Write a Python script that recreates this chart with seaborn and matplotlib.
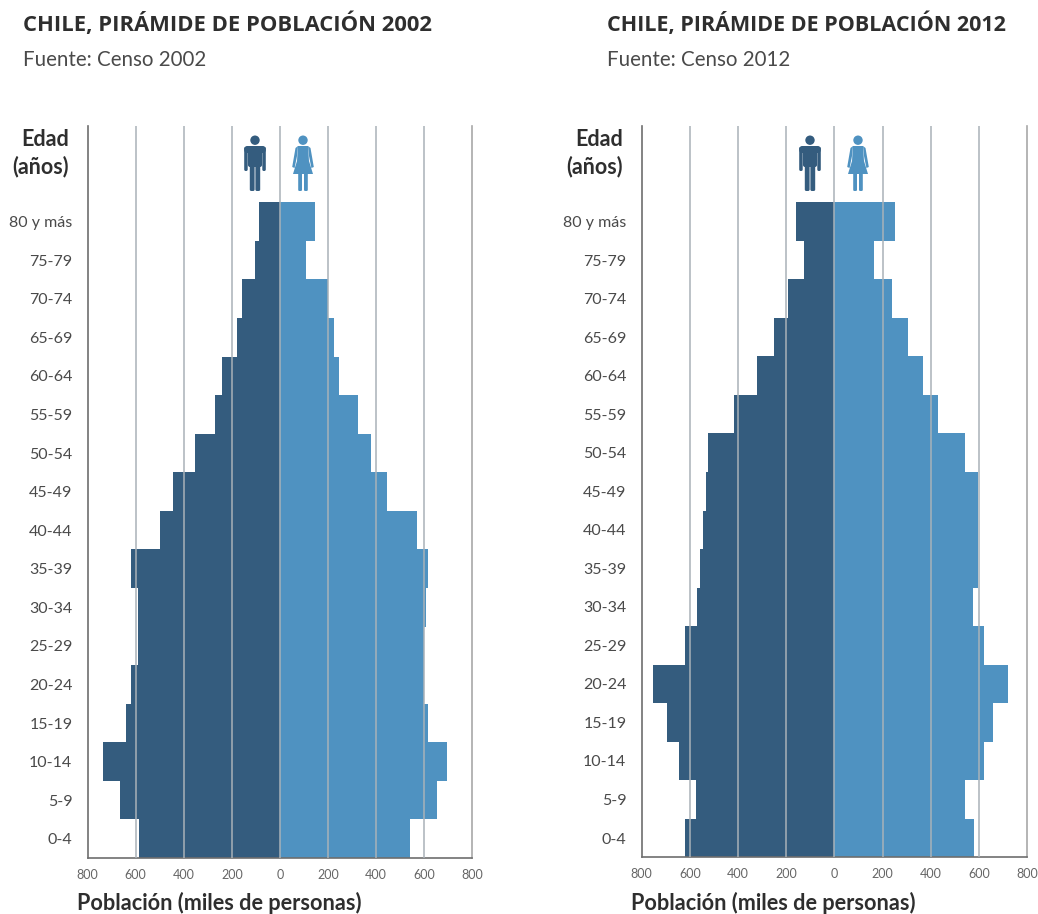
import numpy as np
import pandas as pd
import matplotlib
matplotlib.use('Agg')
import matplotlib.pyplot as plt
import seaborn as sns
from matplotlib.patches import Circle, FancyBboxPatch, Polygon

edades = ['80 y más', '75-79', '70-74', '65-69', '60-64', '55-59', '50-54', '45-49', '40-44',
          '35-39', '30-34', '25-29', '20-24', '15-19', '10-14', '5-9', '0-4']

hombres_2002 = [87, 105, 157, 179, 241, 271, 352, 445, 500, 618, 589, 589, 618, 641, 735, 666, 586]
mujeres_2002 = [145, 107, 199, 224, 245, 325, 380, 447, 571, 615, 608, 600, 600, 615, 694, 656, 540]
hombres_2012 = [159, 127, 194, 252, 320, 418, 523, 534, 547, 559, 572, 621, 752, 696, 646, 573, 621]
mujeres_2012 = [252, 166, 238, 307, 368, 429, 541, 598, 598, 598, 577, 620, 720, 659, 620, 541, 579]

ticks = [-800, -600, -400, -200, 0, 200, 400, 600, 800]
tick_labels = ['800', '600', '400', '200', '0', '200', '400', '600', '800']

AZUL_H = '#345c7e'
AZUL_M = '#4f92c1'
W, H = 1038, 914

sns.set_theme(style='white')
plt.rcParams['font.family'] = ['Lato', 'DejaVu Sans']

fig = plt.figure(figsize=(W / 100, H / 100), dpi=100, facecolor='white')


def caja(ax, x, y, w, h, r, color):
    ax.add_patch(FancyBboxPatch((x, y), w, h, boxstyle=f'round,pad=0,rounding_size={r}', color=color, lw=0))


def icono(ax, tipo, color):
    # little person drawn in its own box, units are about one pixel
    ax.set_xlim(-12, 12)
    ax.set_ylim(0, 56)
    ax.axis('off')
    ax.add_patch(Circle((0, 50.8), 4.7, color=color, lw=0))
    if tipo == 'h':
        caja(ax, -7, 24, 14, 21, 2, color)
        caja(ax, -10.8, 20, 3.5, 24, 1.5, color)
        caja(ax, 7.3, 20, 3.5, 24, 1.5, color)
        caja(ax, -10.8, 38, 21.6, 7, 3, color)
        caja(ax, -5.2, 0, 4.8, 27, 1.5, color)
        caja(ax, 0.4, 0, 4.8, 27, 1.5, color)
    else:
        ax.add_patch(Polygon([(-5, 45), (5, 45), (6, 30), (10, 17), (-10, 17), (-6, 30)], color=color, lw=0))
        ax.add_patch(Polygon([(-5, 45), (-7.5, 43), (-10.8, 24), (-8.4, 23), (-6, 35)], color=color, lw=0))
        ax.add_patch(Polygon([(5, 45), (7.5, 43), (10.8, 24), (8.4, 23), (6, 35)], color=color, lw=0))
        caja(ax, -4.8, 0, 3.8, 20, 1.2, color)
        caja(ax, 1, 0, 3.8, 20, 1.2, color)


def piramide(x0, x1, y0, y1, hombres, mujeres, titulo, fuente, x_tit, x_edad, x_pob, x_h, x_m, size_tit):
    ax = fig.add_axes([x0 / W, 1 - y1 / H, (x1 - x0) / W, (y1 - y0) / H])
    df = pd.DataFrame({
        'edad': edades * 2,
        'valor': list(-np.array(hombres)) + list(mujeres),
        'sexo': ['h'] * len(edades) + ['m'] * len(edades),
    })
    sns.barplot(data=df, y='edad', x='valor', hue='sexo', order=edades, dodge=False, width=1,
                palette={'h': AZUL_H, 'm': AZUL_M}, legend=False, saturation=1, linewidth=0, ax=ax)
    ax.set_xlim(-800, 800)
    ax.set_ylim(16.5, -2.48)
    ax.set_xlabel('')
    ax.set_ylabel('')
    ax.set_xticks(ticks)
    ax.set_xticklabels(tick_labels, fontsize=9, color='#666666')
    ax.tick_params(axis='x', length=0, pad=8)
    ax.tick_params(axis='y', length=0, pad=11, labelsize=11.5, labelcolor='#4a4a4a')
    for t in ticks[1:-1]:
        ax.axvline(t, color='#a9b2b8', lw=1.1, zorder=5)
    sns.despine(ax=ax, top=True, right=False)
    ax.spines['left'].set_color('#6e6e6e')
    ax.spines['bottom'].set_color('#6e6e6e')
    ax.spines['right'].set_color('#a8a8a8')
    ax.spines['left'].set_linewidth(1.2)
    ax.spines['bottom'].set_linewidth(1.2)
    ax.spines['right'].set_linewidth(1.2)

    fig.text(x_tit / W, 1 - 24 / H, titulo, fontsize=size_tit, fontfamily='Open Sans', fontweight='bold',
             color='#2e2e2e', va='center')
    fig.text(x_tit / W, 1 - 60 / H, fuente, fontsize=14.8, color='#4a4a4a', va='center')
    fig.text(x_edad / W, 1 - 139 / H, 'Edad', fontsize=15.5, fontweight='bold', color='#2e2e2e', ha='right', va='center')
    fig.text(x_edad / W, 1 - 167 / H, '(años)', fontsize=15.5, fontweight='bold', color='#2e2e2e', ha='right', va='center')
    fig.text(x_pob / W, 1 - 903 / H, 'Población (miles de personas)', fontsize=15.6, fontweight='bold',
             color='#2e2e2e', va='center')

    for xc, tipo, color in ((x_h, 'h', AZUL_H), (x_m, 'm', AZUL_M)):
        box = fig.add_axes([(xc - 12) / W, 1 - 191 / H, 24 / W, 56 / H])
        icono(box, tipo, color)


piramide(87.7, 472, 126, 858, hombres_2002, mujeres_2002, 'CHILE, PIRÁMIDE DE POBLACIÓN 2002',
         'Fuente: Censo 2002', 23, 69, 77, 255, 303, 15.8)
piramide(641.7, 1027, 126, 857.3, hombres_2012, mujeres_2012, 'CHILE, PIRÁMIDE DE POBLACIÓN 2012',
         'Fuente: Censo 2012', 607, 623, 631, 810, 858, 15.5)

fig.savefig('out.png', dpi=100, facecolor='white')
